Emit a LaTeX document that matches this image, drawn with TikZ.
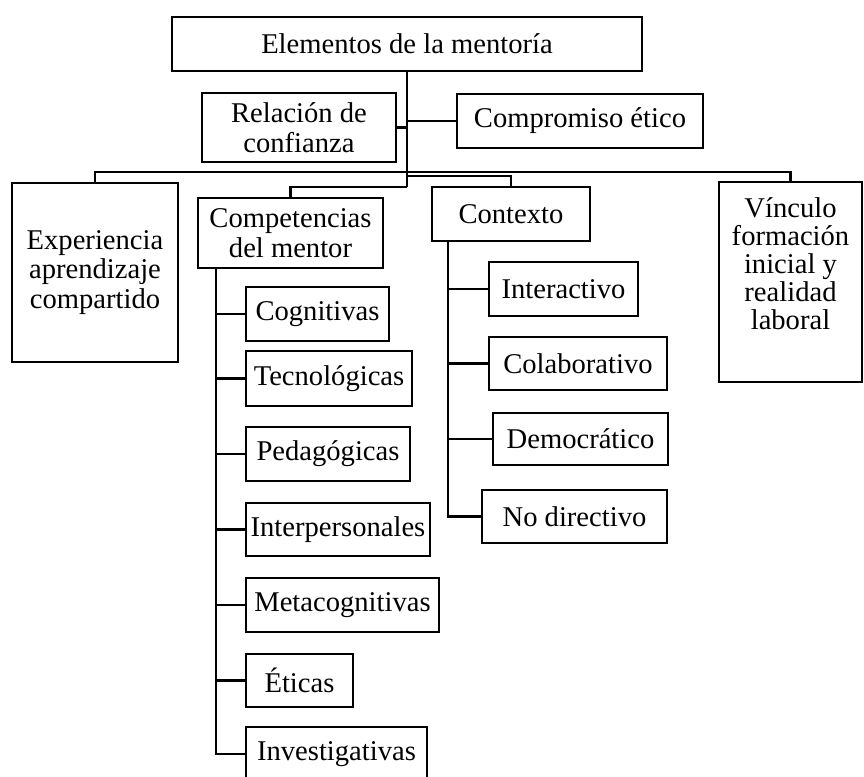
\documentclass[tikz,border=0pt]{standalone}
\usepackage{fontspec}
\setmainfont{Liberation Serif}
\usepackage{tikz}
\usetikzlibrary{positioning,calc}

\begin{document}
\begin{tikzpicture}[x=0.5pt, y=-0.5pt, line width=1.45pt,
  box/.style 2 args={draw, fill=white, inner sep=0pt, align=center,
    minimum width=#1*0.5pt, minimum height=#2*0.5pt,
    font=\fontsize{14.3}{14.9}\selectfont}]
        % Organigrama de los elementos de la mentoria
        \useasboundingbox (0,0) rectangle (864,777);

        \node[box={470}{54}] (top) at (407,44) {Elementos de la mentoría};
        \node[box={194}{69}] (rel) at (299,127.5) {Relación de\\confianza};
        \node[box={246}{54}] (comp) at (580,121) {Compromiso ético};

        % segundo nivel
        \node[box={166}{179}] (exp) at (95,272.5) {Experiencia\\aprendizaje\\compartido};
        \node[box={185}{70}] (cmt) at (290.5,233) {Competencias\\del mentor};
        \node[box={158}{54}] (ctx) at (511,214) {Contexto};
        \node[box={143}{200}, font=\fontsize{14.3}{14}\selectfont] (vin) at (790.5,282)
          {Vínculo\\formación\\inicial y\\realidad\\laboral\\[4pt]\mbox{}};

        % competencias del mentor
        \node[box={143}{54}] (cog) at (317.5,314) {Cognitivas};
        \node[box={166}{55}] (tec) at (329,378.5) {Tecnológicas};
        \node[box={164}{54}] (ped) at (328,454) {Pedagógicas};
        \node[box={184}{53}] (int) at (338,529.5) {Interpersonales};
        \node[box={193}{54}] (met) at (342.5,605) {Metacognitivas};
        \node[box={107}{53}] (eti) at (299.5,680.5) {Éticas};
        \node[box={181}{54}] (inv) at (336.5,754) {Investigativas};

        % contexto
        \node[box={149}{54}] (inta) at (563.5,289) {Interactivo};
        \node[box={178}{53}] (col) at (578,363.5) {Colaborativo};
        \node[box={175}{52}] (dem) at (580.5,439) {Democrático};
        \node[box={185}{53}] (nod) at (574.5,516.5) {No directivo};

        \coordinate (busA) at (407,172);
        \coordinate (busB) at (407,176);
        \coordinate (busC) at (407,187);
        \coordinate (cspine) at (216,268);
        \coordinate (xspine) at (448,241);

        \draw (top.south) -- (busC);
        \draw (rel.east) -- (rel.east -| top.south);
        \draw (comp.west) -- (comp.west -| top.south);
        \draw (exp.north) |- (busA) -| (vin.north);
        \draw (ctx.north) |- (busB);
        \draw (cmt.north) |- (busC);

        \draw (cspine) |- (inv.west);
        \draw (cog.west) -- (cog.west -| cspine);
        \draw (tec.west) -- (tec.west -| cspine);
        \draw (ped.west) -- (ped.west -| cspine);
        \draw (int.west) -- (int.west -| cspine);
        \draw (met.west) -- (met.west -| cspine);
        \draw (eti.west) -- (eti.west -| cspine);

        \draw (xspine) |- (nod.west);
        \draw (inta.west) -- (inta.west -| xspine);
        \draw (col.west) -- (col.west -| xspine);
        \draw (dem.west) -- (dem.west -| xspine);
    \end{tikzpicture}
\end{document}
